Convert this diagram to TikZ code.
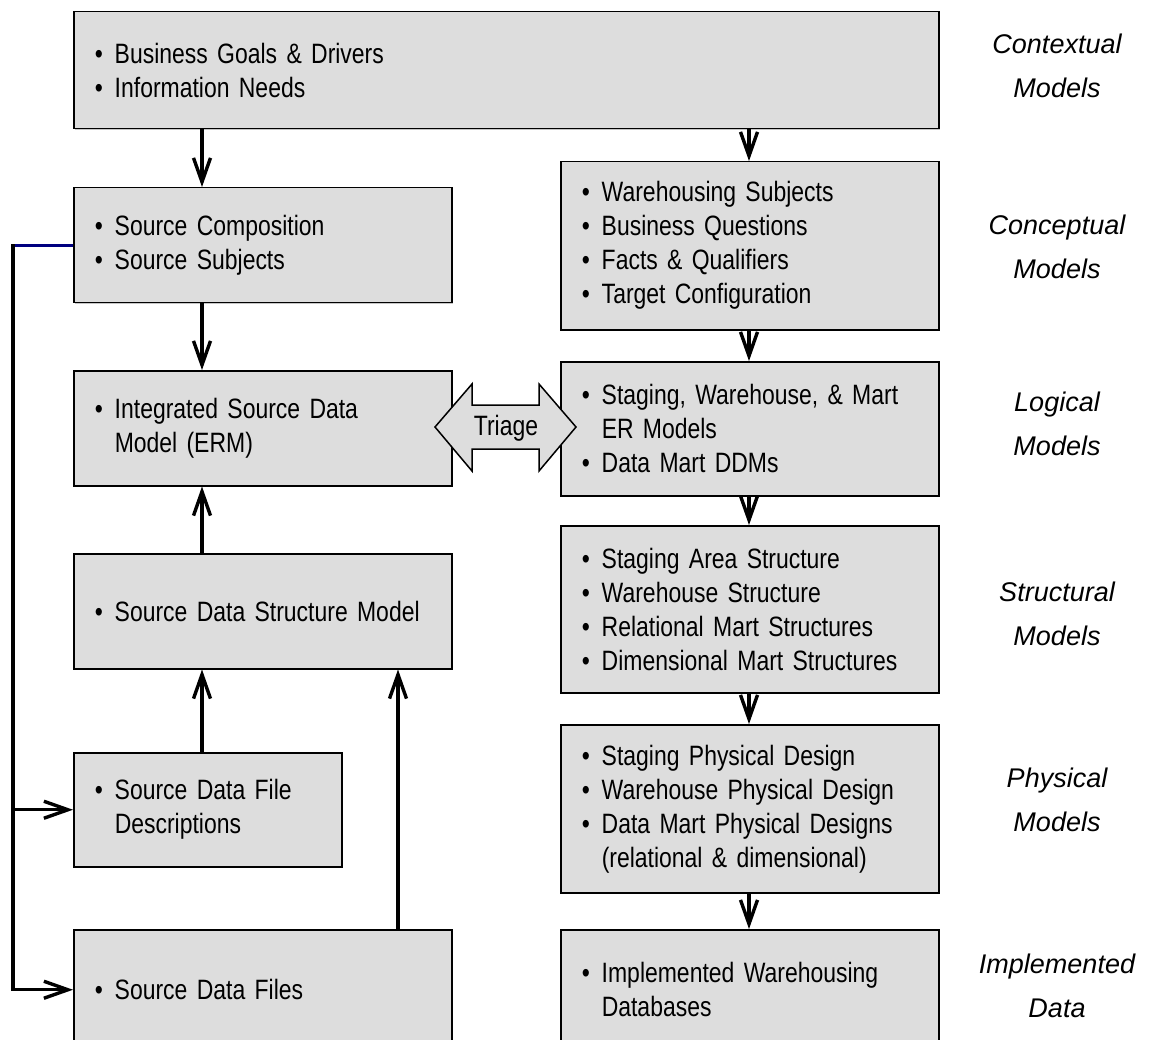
\documentclass[tikz,border=0pt]{standalone}
\usepackage{fontspec}
\setmainfont{Liberation Sans}[FakeStretch=0.82]
\newfontfamily\labfont{Liberation Sans}
\usetikzlibrary{arrows.meta,shadows}
\definecolor{boxgray}{HTML}{DDDDDD}
\definecolor{linknavy}{HTML}{000080}
\newlength{\bulw}\setlength{\bulw}{20pt}
\newcommand{\bitem}[1]{\makebox[\bulw][l]{\textbullet}#1}
\newcommand{\citem}[1]{\hspace*{\bulw}#1}
\newcommand{\panelfont}{\fontsize{28}{34}\selectfont\spaceskip=5pt plus 1pt minus 1pt\relax}
\begin{document}
\begin{tikzpicture}[x=1pt,y=-1pt,
  panel/.style={draw=black, line width=1.5pt, fill=boxgray, anchor=north west,
    align=left, inner xsep=21pt, inner ysep=0pt,
    font=\panelfont,
    drop shadow={shadow xshift=1.3pt, shadow yshift=-1.3pt, opacity=0.45}},
  lab/.style={align=center, font=\labfont\fontsize{27}{44}\selectfont\itshape},
  arr/.style={line width=3.4pt, -{Straight Barb[length=24pt,width=17pt]}},
  link/.style={line width=3.4pt}]
\useasboundingbox (0,0) rectangle (1150,1040);

% column guides for the connectors
\coordinate (xl) at (202,0);
\coordinate (xs) at (398,0);
\coordinate (xr) at (749,0);
\coordinate (bus) at (13,0);

% top box
\node[panel, minimum width=865pt, minimum height=117pt, text width=823pt] (ctx) at (73,11)
  {\bitem{Business Goals \& Drivers}\\\bitem{Information Needs}};

% left column
\node[panel, minimum width=378pt, minimum height=115pt, text width=336pt] (src) at (73,187)
  {\bitem{Source Composition}\\\bitem{Source Subjects}};
\node[panel, minimum width=378pt, minimum height=115pt, text width=336pt] (integ) at (73,370)
  {\bitem{Integrated Source Data}\\\citem{Model (ERM)}};
\node[panel, minimum width=378pt, minimum height=115pt, text width=336pt] (sdsm) at (73,553)
  {\bitem{Source Data Structure Model}};
\node[panel, minimum width=268pt, minimum height=114pt, text width=226pt] (fdesc) at (73,752)
  {\bitem{Source Data File}\\\citem{Descriptions}};
\node[panel, minimum width=378pt, minimum height=120pt, text width=336pt] (sfiles) at (73,929)
  {\bitem{Source Data Files}};

% right column
\node[panel, minimum width=378pt, minimum height=168pt, text width=336pt] (wsub) at (560,161)
  {\bitem{Warehousing Subjects}\\\bitem{Business Questions}\\\bitem{Facts \& Qualifiers}\\\bitem{Target Configuration}};
\node[panel, minimum width=378pt, minimum height=134pt, text width=336pt] (erm) at (560,361)
  {\bitem{Staging, Warehouse, \& Mart}\\\citem{ER Models}\\\bitem{Data Mart DDMs}};
\node[panel, minimum width=378pt, minimum height=167pt, text width=336pt] (struct) at (560,525)
  {\bitem{Staging Area Structure}\\\bitem{Warehouse Structure}\\\bitem{Relational Mart Structures}\\\bitem{Dimensional Mart Structures}};
\node[panel, minimum width=378pt, minimum height=168pt, text width=336pt] (phys) at (560,724)
  {\bitem{Staging Physical Design}\\\bitem{Warehouse Physical Design}\\\bitem{Data Mart Physical Designs}\\\citem{(relational \& dimensional)}};
\node[panel, minimum width=378pt, minimum height=120pt, text width=336pt] (impl) at (560,929)
  {\bitem{Implemented Warehousing}\\\citem{Databases}};

% level labels
\node[lab] (lctx) at (1057,66) {Contextual\\Models};
\node[lab] (lcon) at (1057,247) {Conceptual\\Models};
\node[lab] (llog) at (1057,424) {Logical\\Models};
\node[lab] (lstr) at (1057,614) {Structural\\Models};
\node[lab] (lphy) at (1057,800) {Physical\\Models};
\node[lab] (limp) at (1057,986) {Implemented\\Data};

% left column flow
\draw[arr] (ctx.south -| xl) -- (src.north -| xl);
\draw[arr] (src.south -| xl) -- (integ.north -| xl);
\draw[arr] (sdsm.north -| xl) -- (integ.south -| xl);
\draw[arr] (fdesc.north -| xl) -- (sdsm.south -| xl);
\draw[arr] (sfiles.north -| xs) -- (sdsm.south -| xs);

% right column flow
\draw[arr] (ctx.south -| xr) -- (wsub.north -| xr);
\draw[arr] (wsub.south -| xr) -- (erm.north -| xr);
\draw[arr] (erm.south -| xr) -- (struct.north -| xr);
\draw[arr] (struct.south -| xr) -- (phys.north -| xr);
\draw[arr] (phys.south -| xr) -- (impl.north -| xr);

% feed from source composition to the file boxes
\draw[link, draw=linknavy] (src.west) -- (src.west -| bus);
\draw[arr, line cap=rect] (src.west -| bus) -- (sfiles.west -| bus) -- (sfiles.west);
\draw[arr] (fdesc.west -| bus) -- (fdesc.west);

% triage double arrow
\draw[line width=1.5pt, fill=boxgray, line join=miter]
  (435,427) -- (472,384) -- (472,405) -- (539,405) -- (539,384) -- (576,427)
  -- (539,471) -- (539,449) -- (472,449) -- (472,471) -- cycle;
\node[font=\fontsize{28}{34}\selectfont] (triage) at (506,428) {Triage};
\end{tikzpicture}
\end{document}
